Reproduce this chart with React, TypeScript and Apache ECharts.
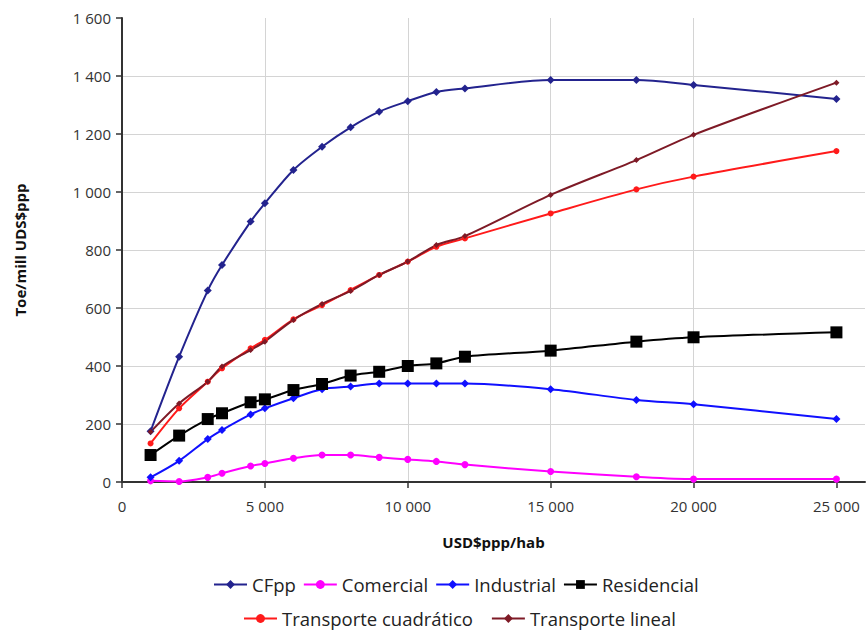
import React, { useEffect, useRef } from "react";
import * as echarts from "echarts";

const xValues = [1000, 2000, 3000, 3500, 4500, 5000, 6000, 7000, 8000, 9000, 10000, 11000, 12000, 15000, 18000, 20000, 25000];
const cfpp = [175, 432, 660, 748, 898, 961, 1076, 1156, 1223, 1277, 1313, 1345, 1357, 1386, 1386, 1369, 1321];
const comercial = [4, 2, 16, 30, 55, 64, 82, 93, 93, 85, 78, 71, 60, 36, 18, 10, 10];
const industrial = [16, 73, 148, 179, 233, 254, 289, 320, 329, 340, 340, 340, 340, 320, 283, 268, 217];
const residencial = [93, 160, 217, 237, 275, 285, 317, 338, 367, 380, 400, 409, 432, 453, 484, 499, 516];
const transporteCuadratico = [133, 254, 346, 392, 461, 490, 561, 610, 662, 714, 760, 811, 840, 926, 1009, 1053, 1141];
const transporteLineal = [173, 271, 346, 398, 455, 484, 559, 614, 659, 714, 760, 817, 848, 990, 1110, 1197, 1377];
const xTicks = [0, 5000, 10000, 15000, 20000, 25000];

const FONT = "Open Sans";
const fmt = (v: number) => String(v).replace(/\B(?=(\d{3})+(?!\d))/g, " ");
const pairs = (ys: number[]) => xValues.map((x, i) => [x, ys[i]]);

export default function App() {
  const ref = useRef<HTMLDivElement>(null);
  useEffect(() => {
    const chart = echarts.init(ref.current!, null, { renderer: "svg" });
    const mk = (name: string, data: number[], color: string, symbol: string, size: number) => ({
      name,
      type: "line",
      data: pairs(data),
      smooth: 0.3,
      symbol,
      symbolSize: size,
      showSymbol: true,
      lineStyle: { color, width: 2 },
      itemStyle: { color },
      emphasis: { disabled: true },
    });
    const legendText = { fontFamily: FONT, fontSize: 18.5, color: "#222" };
    chart.setOption({
      animation: false,
      textStyle: { fontFamily: FONT },
      grid: { left: 122, right: 3, top: 18, bottom: 151, containLabel: false },
      xAxis: {
        type: "value",
        min: 0,
        max: 26000,
        interval: 5000,
        name: "USD$ppp/hab",
        nameLocation: "middle",
        nameGap: 52,
        nameTextStyle: { fontFamily: FONT, fontWeight: "bold", fontSize: 15, color: "#111" },
        axisLine: { show: true, onZero: false, lineStyle: { color: "#333", width: 2 } },
        axisTick: { show: true, length: 6, lineStyle: { color: "#333", width: 1.5 }, customValues: xTicks },
        axisLabel: {
          customValues: xTicks,
          formatter: (v: number) => fmt(v),
          fontFamily: FONT,
          fontSize: 15,
          color: "#333",
          margin: 16,
        },
        splitLine: { show: true, showMinLine: false, showMaxLine: false, lineStyle: { color: "#d4d4d4", width: 1 } },
      },
      yAxis: {
        type: "value",
        min: 0,
        max: 1600,
        interval: 200,
        name: "Toe/mill UDS$ppp",
        nameLocation: "middle",
        nameGap: 95,
        nameTextStyle: { fontFamily: FONT, fontWeight: "bold", fontSize: 15, color: "#111" },
        axisLine: { show: true, lineStyle: { color: "#333", width: 2 } },
        axisTick: { show: true, length: 6, lineStyle: { color: "#333", width: 1.5 } },
        axisLabel: {
          formatter: (v: number) => fmt(v),
          fontFamily: FONT,
          fontSize: 15,
          color: "#333",
          margin: 11,
        },
        splitLine: { show: true, showMaxLine: false, lineStyle: { color: "#d4d4d4", width: 1 } },
      },
      legend: [
        {
          data: ["CFpp", "Comercial", "Industrial", "Residencial"],
          left: 213,
          top: 575,
          padding: 0,
          itemWidth: 33,
          itemHeight: 11,
          itemGap: 7,
          textStyle: legendText,
          selectedMode: false,
        },
        {
          data: ["Transporte cuadrático", "Transporte lineal"],
          left: 243,
          top: 609,
          padding: 0,
          itemWidth: 33,
          itemHeight: 11,
          itemGap: 18,
          textStyle: legendText,
          selectedMode: false,
        },
      ],
      series: [
        mk("CFpp", cfpp, "#23238e", "diamond", 8),
        mk("Comercial", comercial, "#ff00ff", "circle", 7),
        mk("Industrial", industrial, "#1010ff", "diamond", 8),
        mk("Residencial", residencial, "#000000", "rect", 12),
        mk("Transporte cuadrático", transporteCuadratico, "#ff1a1a", "circle", 6),
        mk("Transporte lineal", transporteLineal, "#7e1a26", "diamond", 6),
      ],
    });
    return () => chart.dispose();
  }, []);
  return (
    <div
      ref={ref}
      style={{ position: "fixed", left: 0, top: 0, width: 868, height: 633, background: "#fff" }}
    />
  );
}
